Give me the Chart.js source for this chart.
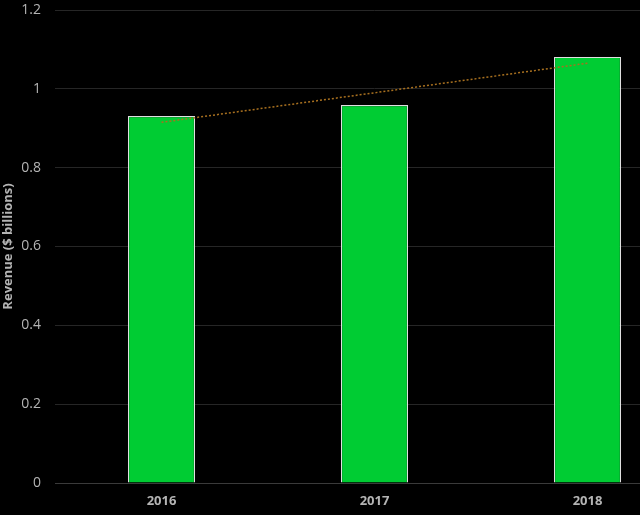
<!DOCTYPE html>
<html>
<head>
<meta charset="utf-8">
<script src="https://cdn.jsdelivr.net/npm/chart.js@4.4.1/dist/chart.umd.min.js"></script>
<style>
  html, body { margin: 0; padding: 0; background: #000; overflow: hidden; }
  #wrap { position: relative; width: 694px; height: 515px; }
</style>
</head>
<body>
<div id="wrap"><canvas id="chart"></canvas></div>
<script>
// values
const years = ["2016", "2017", "2018"];
const revenue = [0.931, 0.959, 1.081];
const trend = [0.915, 0.990, 1.065];
const yTicks = [0, 0.2, 0.4, 0.6, 0.8, 1, 1.2];

const labelColor = "#b4b4b4";
const gridColor = "#262626";
const font = "'Open Sans', 'Noto Sans', sans-serif";

new Chart(document.getElementById("chart"), {
  type: "bar",
  data: {
    labels: years,
    datasets: [
      {
        type: "line",
        data: trend,
        borderColor: "#a8701f",
        borderWidth: 1.5,
        borderDash: [2, 2],
        pointRadius: 0,
        fill: false,
        order: 0,
      },
      {
        data: revenue,
        backgroundColor: "#00cc33",
        borderColor: "#e0e0e0",
        borderWidth: 1.2,
        borderSkipped: "bottom",
        categoryPercentage: 1,
        barPercentage: 0.315,
        order: 1,
      },
    ],
  },
  options: {
    responsive: true,
    maintainAspectRatio: false,
    animation: false,
    layout: { padding: 0 },
    plugins: { legend: { display: false }, tooltip: { enabled: false } },
    scales: {
      x: {
        grid: { display: false, drawTicks: false },
        border: { color: "#3a3a3a", width: 1 },
        ticks: {
          color: labelColor,
          padding: 10,
          font: { family: font, size: 13, weight: "bold" },
        },
        afterFit: (s) => { s.height = 32; },
      },
      y: {
        min: 0,
        max: 1.2,
        afterBuildTicks: (s) => { s.ticks = yTicks.map((v) => ({ value: v })); },
        grid: { color: gridColor, drawTicks: false },
        border: { display: false },
        ticks: {
          color: labelColor,
          padding: 14,
          font: { family: font, size: 14 },
          callback: (v) => String(Math.round(v * 10) / 10),
        },
        title: {
          display: true,
          text: "Revenue ($ billions)",
          color: labelColor,
          padding: 0,
          font: { family: font, size: 13, weight: "bold" },
        },
        afterFit: (s) => { s.width = 55; s.paddingTop = 10; s.paddingBottom = 0; },
      },
    },
  },
});
</script>
</body>
</html>
